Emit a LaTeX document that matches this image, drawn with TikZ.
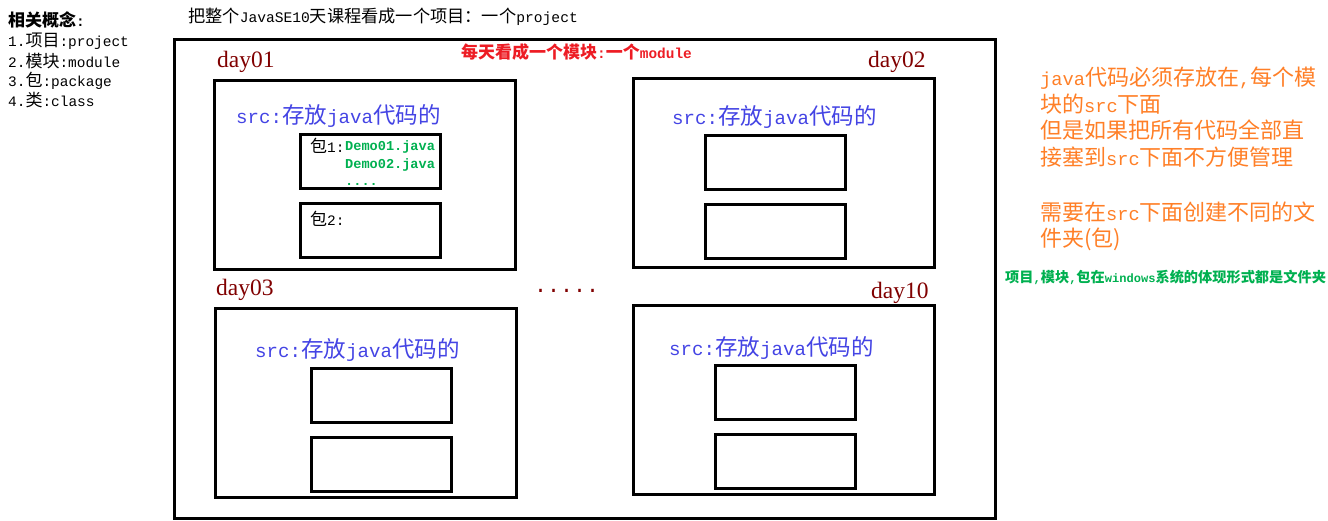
\documentclass[tikz,border=0pt]{standalone}
\usepackage{fontspec}
\setmainfont{Liberation Mono}[Scale=0.85]
\newfontfamily\cjk{Noto Sans CJK SC}
\newfontfamily\dayfont{Liberation Serif}
\newcommand\zh[1]{{\cjk #1}}
\definecolor{dayred}{RGB}{128,0,0}
\definecolor{modred}{RGB}{237,28,36}
\definecolor{srcblue}{RGB}{68,68,228}
\definecolor{javagreen}{RGB}{0,176,80}
\definecolor{noteorange}{RGB}{255,127,39}
\begin{document}
\begin{tikzpicture}[x=1pt,y=-1pt,
  box/.style={draw, line width=3pt, inner sep=0pt},
  daybox/.style={box, minimum width=301pt, minimum height=189pt},
  pkgbox/.style={box, minimum width=140pt, minimum height=54pt},
  txt/.style={inner sep=0pt, anchor=west},
  listtxt/.style={txt, font=\fontsize{17}{17}\selectfont},
  daylabel/.style={txt, text=dayred, font=\dayfont\fontsize{23.5}{23.5}\selectfont},
  srclabel/.style={txt, text=srcblue, font=\fontsize{22.5}{22.5}\selectfont}]
\useasboundingbox (0,0) rectangle (1328,520);

% concepts
\node[listtxt, font=\bfseries\fontsize{17}{17}\selectfont] (head) at (8,20) {\zh{相关概念}:};
\node[listtxt] (c1) at (8,41) {1.\zh{项目}:project};
\node[listtxt] (c2) at (8,61) {2.\zh{模块}:module};
\node[listtxt] (c3) at (8,81) {3.\zh{包}:package};
\node[listtxt] (c4) at (8,100) {4.\zh{类}:class};

\node[txt, font=\fontsize{17.2}{17.2}\selectfont] (title) at (188,17) {\zh{把整个}JavaSE10\zh{天课程看成一个项目：一个}project};

% project
\node[box, minimum width=821pt, minimum height=479pt] (proj) at (584.5,278.5) {};
\node[txt, text=modred, font=\bfseries\fontsize{17}{17}\selectfont] (mod) at (461,52) {\zh{每天看成一个模块}:\zh{一个}module};

% modules
\node[daybox] (d1) at (364.5,174.5) {};
\node[daybox] (d2) at (783.5,172.5) {};
\node[daybox] (d3) at (365.5,402.5) {};
\node[daybox] (d10) at (784,399.5) {};

\node[daylabel] (l1) at (217,62) {day01};
\node[daylabel] (l2) at (868,62) {day02};
\node[daylabel] (l3) at (216,290) {day03};
\node[daylabel] (l10) at (871,293) {day10};
\node[txt, anchor=base west, text=dayred, font=\fontsize{25.5}{25.5}\selectfont] (more) at (534,292) {.....};

\node[srclabel] (s1) at (236,116) {src:\zh{存放}java\zh{代码的}};
\node[srclabel] (s2) at (672,117) {src:\zh{存放}java\zh{代码的}};
\node[srclabel] (s3) at (255,350) {src:\zh{存放}java\zh{代码的}};
\node[srclabel] (s10) at (669,348) {src:\zh{存放}java\zh{代码的}};

% packages
\node[pkgbox] (p11) at (370,161) {};
\node[pkgbox] (p12) at (370,230) {};
\node[pkgbox] (p21) at (775,162.5) {};
\node[pkgbox] (p22) at (775,231.5) {};
\node[pkgbox] (p31) at (381,395.5) {};
\node[pkgbox] (p32) at (381,464) {};
\node[pkgbox] (p101) at (785,392) {};
\node[pkgbox] (p102) at (785,461.5) {};

\node[listtxt] (k1) at (310,146) {\zh{包}1:};
\node[listtxt] (k2) at (310,219) {\zh{包}2:};
\node[inner sep=0pt, anchor=north west, align=left, text=javagreen,
  font=\bfseries\fontsize{16}{17.5}\selectfont] (demo) at (345,140.5)
  {Demo01.java\\Demo02.java\\....};

% notes
\node[inner sep=0pt, anchor=north west, align=left, text=noteorange,
  font=\fontsize{22}{26.5}\selectfont] (note) at (1040,67)
  {java\zh{代码必须存放在},\zh{每个模}\\
   \zh{块的}src\zh{下面}\\
   \zh{但是如果把所有代码全部直}\\
   \zh{接塞到}src\zh{下面不方便管理}\\[28.5pt]
   \zh{需要在}src\zh{下面创建不同的文}\\
   \zh{件夹(包)}};
\node[txt, text=javagreen, font=\bfseries\fontsize{14.2}{14.2}\selectfont] (os) at (1005,277)
  {\zh{项目},\zh{模块},\zh{包在}windows\zh{系统的体现形式都是文件夹}};
\end{tikzpicture}
\end{document}
